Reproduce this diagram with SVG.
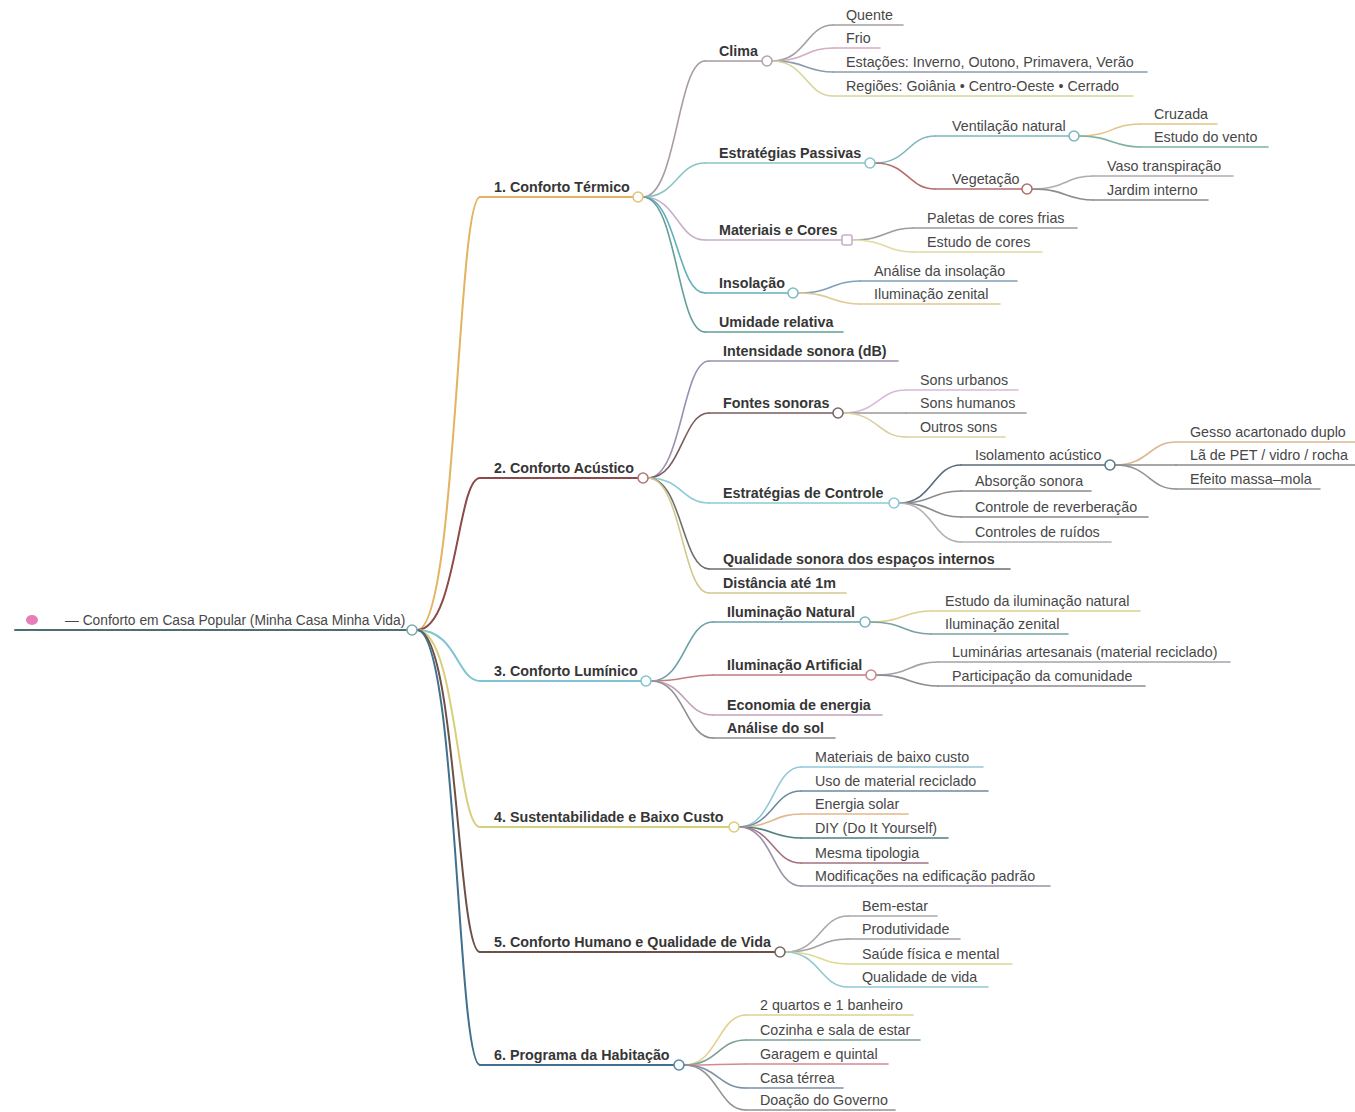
<svg xmlns="http://www.w3.org/2000/svg" width="1355" height="1112" viewBox="0 0 1355 1112">
<style>
.t{font-family:"Liberation Sans",Arial,sans-serif;font-size:14.3px;fill:#474747}
.b{font-weight:bold;fill:#363636}
.r{font-size:13.8px}
.ln{fill:none;stroke-width:1.6;stroke-linecap:round}
.l1{stroke-width:2}
.mk{fill:#fff;stroke-width:1.6}
</style>
<rect width="1355" height="1112" fill="#fff"/>
<g id="connectors">
<path class="ln l1" stroke="#e3b35f" d="M417,630C457,630 457,197 480,197"/>
<path class="ln l1" stroke="#8d4a4a" d="M417,630C457,630 457,478 480,478"/>
<path class="ln l1" stroke="#7ec4d2" d="M417,630C457,630 457,681 480,681"/>
<path class="ln l1" stroke="#d8cf7c" d="M417,630C457,630 457,827 480,827"/>
<path class="ln l1" stroke="#6d5046" d="M417,630C457,630 457,952 480,952"/>
<path class="ln l1" stroke="#41708e" d="M417,630C457,630 457,1065 480,1065"/>
<path class="ln" stroke="#a99aa3" d="M643,197C677,197 677,61 705,61"/>
<path class="ln" stroke="#89c5c8" d="M643,197C677,197 677,163 705,163"/>
<path class="ln" stroke="#c9aecb" d="M643,197C677,197 677,240 705,240"/>
<path class="ln" stroke="#62afbc" d="M643,197C677,197 677,293 705,293"/>
<path class="ln" stroke="#609e9b" d="M643,197C677,197 677,332 705,332"/>
<path class="ln" stroke="#a59fa0" d="M772,61C806,61 806,25 833,25"/>
<path class="ln" stroke="#d6abc3" d="M772,61C806,61 806,48 833,48"/>
<path class="ln" stroke="#8d9cab" d="M772,61C806,61 806,72 833,72"/>
<path class="ln" stroke="#d6d69d" d="M772,61C806,61 806,96 833,96"/>
<path class="ln" stroke="#7db7bf" d="M875,163C908,163 908,136 935,136"/>
<path class="ln" stroke="#b46e6e" d="M875,163C908,163 908,189 935,189"/>
<path class="ln" stroke="#dfc683" d="M1079,136C1112,136 1112,124 1140,124"/>
<path class="ln" stroke="#7eb2a2" d="M1079,136C1112,136 1112,147 1140,147"/>
<path class="ln" stroke="#b2aab2" d="M1032,189C1066,189 1066,176 1093,176"/>
<path class="ln" stroke="#8c8c8c" d="M1032,189C1066,189 1066,200 1093,200"/>
<path class="ln" stroke="#9c9c9c" d="M852,240C886,240 886,228 913,228"/>
<path class="ln" stroke="#e0dca4" d="M852,240C886,240 886,252 913,252"/>
<path class="ln" stroke="#7f9fb9" d="M798,293C832,293 832,281 860,281"/>
<path class="ln" stroke="#e1c992" d="M798,293C832,293 832,304 860,304"/>
<path class="ln" stroke="#9b90b1" d="M648,478C682,478 682,361 709,361"/>
<path class="ln" stroke="#7c5c5c" d="M648,478C682,478 682,413 709,413"/>
<path class="ln" stroke="#8ccad9" d="M648,478C682,478 682,503 709,503"/>
<path class="ln" stroke="#6f6f6f" d="M648,478C682,478 682,569 709,569"/>
<path class="ln" stroke="#d2c98f" d="M648,478C682,478 682,593 709,593"/>
<path class="ln" stroke="#d9b9d9" d="M843,413C878,413 878,390 906,390"/>
<path class="ln" stroke="#9b9b9b" d="M843,413C878,413 878,413 906,413"/>
<path class="ln" stroke="#d9d1a2" d="M843,413C878,413 878,437 906,437"/>
<path class="ln" stroke="#5b6b7b" d="M899,503C933,503 933,465 961,465"/>
<path class="ln" stroke="#8b8b8b" d="M899,503C933,503 933,491 961,491"/>
<path class="ln" stroke="#8b8b8b" d="M899,503C933,503 933,517 961,517"/>
<path class="ln" stroke="#b2b2b2" d="M899,503C933,503 933,542 961,542"/>
<path class="ln" stroke="#d9ba92" d="M1115,465C1149,465 1149,442 1176,442"/>
<path class="ln" stroke="#8b8b8b" d="M1115,465C1149,465 1149,465 1176,465"/>
<path class="ln" stroke="#929292" d="M1115,465C1149,465 1149,489 1176,489"/>
<path class="ln" stroke="#6aa0a9" d="M651,681C685,681 685,622 713,622"/>
<path class="ln" stroke="#c27c82" d="M651,681C685,681 685,675 713,675"/>
<path class="ln" stroke="#c2a2ba" d="M651,681C685,681 685,715 713,715"/>
<path class="ln" stroke="#8f8f8f" d="M651,681C685,681 685,738 713,738"/>
<path class="ln" stroke="#dfcf8f" d="M870,622C904,622 904,611 931,611"/>
<path class="ln" stroke="#7aa2a2" d="M870,622C904,622 904,634 931,634"/>
<path class="ln" stroke="#a2a2aa" d="M876,675C910,675 910,662 938,662"/>
<path class="ln" stroke="#8c8c92" d="M876,675C910,675 910,686 938,686"/>
<path class="ln" stroke="#92c9d8" d="M739,827C773,827 773,767 801,767"/>
<path class="ln" stroke="#6b8ba2" d="M739,827C773,827 773,791 801,791"/>
<path class="ln" stroke="#e1b98f" d="M739,827C773,827 773,814 801,814"/>
<path class="ln" stroke="#4f7f80" d="M739,827C773,827 773,838 801,838"/>
<path class="ln" stroke="#a27282" d="M739,827C773,827 773,863 801,863"/>
<path class="ln" stroke="#9b91a9" d="M739,827C773,827 773,886 801,886"/>
<path class="ln" stroke="#a9a9a9" d="M785,952C820,952 820,916 848,916"/>
<path class="ln" stroke="#a1a1a1" d="M785,952C820,952 820,939 848,939"/>
<path class="ln" stroke="#e0d991" d="M785,952C820,952 820,964 848,964"/>
<path class="ln" stroke="#92c9d1" d="M785,952C820,952 820,987 848,987"/>
<path class="ln" stroke="#e1d191" d="M684,1065C718,1065 718,1015 746,1015"/>
<path class="ln" stroke="#7aa192" d="M684,1065C718,1065 718,1040 746,1040"/>
<path class="ln" stroke="#d28a92" d="M684,1065C718,1065 718,1064 746,1064"/>
<path class="ln" stroke="#7b91a9" d="M684,1065C718,1065 718,1088 746,1088"/>
<path class="ln" stroke="#929292" d="M684,1065C718,1065 718,1110 746,1110"/>
</g>

<g id="root">
<path class="ln l1" stroke="#4f6e72" d="M15,630H407"/>
<ellipse cx="32" cy="620" rx="6" ry="5" fill="#e67fb8"/>
<text class="t r" x="65" y="625">— Conforto em Casa Popular (Minha Casa Minha Vida)</text>
<circle class="mk" cx="412" cy="630" r="5" stroke="#7fa9b0"/>
</g>

<g id="n1">
<path class="ln l1" stroke="#e3b35f" d="M480,197H633"/>
<text class="t b" x="494" y="192">1. Conforto Térmico</text>
<circle class="mk" cx="638" cy="197" r="5" stroke="#e3c07a"/>
</g>
<g id="n1-clima">
<path class="ln" stroke="#a99aa3" d="M705,61H762"/>
<text class="t b" x="719" y="56">Clima</text>
<circle class="mk" cx="767" cy="61" r="5" stroke="#b3a3b3"/>
</g>
<g id="n1-clima-quente"><path class="ln" stroke="#a59fa0" d="M833,25H903"/><text class="t" x="846" y="20">Quente</text></g>
<g id="n1-clima-frio"><path class="ln" stroke="#d6abc3" d="M833,48H880"/><text class="t" x="846" y="43">Frio</text></g>
<g id="n1-clima-estacoes"><path class="ln" stroke="#8d9cab" d="M833,72H1147"/><text class="t" x="846" y="67">Estações: Inverno, Outono, Primavera, Verão</text></g>
<g id="n1-clima-regioes"><path class="ln" stroke="#d6d69d" d="M833,96H1133"/><text class="t" x="846" y="91">Regiões: Goiânia • Centro-Oeste • Cerrado</text></g>

<g id="n1-estrategias">
<path class="ln" stroke="#89c5c8" d="M705,163H865"/>
<text class="t b" x="719" y="158">Estratégias Passivas</text>
<circle class="mk" cx="870" cy="163" r="5" stroke="#89c5c8"/>
</g>
<g id="n1-ventilacao">
<path class="ln" stroke="#7db7bf" d="M935,136H1069"/>
<text class="t" x="952" y="131">Ventilação natural</text>
<circle class="mk" cx="1074" cy="136" r="5" stroke="#7db7bf"/>
</g>
<g id="n1-ventilacao-cruzada"><path class="ln" stroke="#dfc683" d="M1140,124H1217"/><text class="t" x="1154" y="119">Cruzada</text></g>
<g id="n1-ventilacao-vento"><path class="ln" stroke="#7eb2a2" d="M1140,147H1268"/><text class="t" x="1154" y="142">Estudo do vento</text></g>
<g id="n1-vegetacao">
<path class="ln" stroke="#b46e6e" d="M935,189H1022"/>
<text class="t" x="952" y="184">Vegetação</text>
<circle class="mk" cx="1027" cy="189" r="5" stroke="#b46e6e"/>
</g>
<g id="n1-vegetacao-vaso"><path class="ln" stroke="#b2aab2" d="M1093,176H1233"/><text class="t" x="1107" y="171">Vaso transpiração</text></g>
<g id="n1-vegetacao-jardim"><path class="ln" stroke="#8c8c8c" d="M1093,200H1208"/><text class="t" x="1107" y="195">Jardim interno</text></g>

<g id="n1-materiais">
<path class="ln" stroke="#c9aecb" d="M705,240H842"/>
<text class="t b" x="719" y="235">Materiais e Cores</text>
<rect class="mk" x="842" y="235" width="10" height="10" rx="2" stroke="#c9aecb"/>
</g>
<g id="n1-materiais-paletas"><path class="ln" stroke="#9c9c9c" d="M913,228H1077"/><text class="t" x="927" y="223">Paletas de cores frias</text></g>
<g id="n1-materiais-estudo"><path class="ln" stroke="#e0dca4" d="M913,252H1042"/><text class="t" x="927" y="247">Estudo de cores</text></g>

<g id="n1-insolacao">
<path class="ln" stroke="#62afbc" d="M705,293H788"/>
<text class="t b" x="719" y="288">Insolação</text>
<circle class="mk" cx="793" cy="293" r="5" stroke="#7cbcc6"/>
</g>
<g id="n1-insolacao-analise"><path class="ln" stroke="#7f9fb9" d="M860,281H1017"/><text class="t" x="874" y="276">Análise da insolação</text></g>
<g id="n1-insolacao-zenital"><path class="ln" stroke="#e1c992" d="M860,304H1000"/><text class="t" x="874" y="299">Iluminação zenital</text></g>
<g id="n1-umidade"><path class="ln" stroke="#609e9b" d="M705,332H843"/><text class="t b" x="719" y="327">Umidade relativa</text></g>

<g id="n2">
<path class="ln l1" stroke="#8d4a4a" d="M480,478H638"/>
<text class="t b" x="494" y="473">2. Conforto Acústico</text>
<circle class="mk" cx="643" cy="478" r="5" stroke="#b07878"/>
</g>
<g id="n2-intensidade"><path class="ln" stroke="#9b90b1" d="M709,361H898"/><text class="t b" x="723" y="356">Intensidade sonora (dB)</text></g>
<g id="n2-fontes">
<path class="ln" stroke="#7c5c5c" d="M709,413H833"/>
<text class="t b" x="723" y="408">Fontes sonoras</text>
<circle class="mk" cx="838" cy="413" r="5" stroke="#7c6666"/>
</g>
<g id="n2-fontes-urbanos"><path class="ln" stroke="#d9b9d9" d="M906,390H1018"/><text class="t" x="920" y="385">Sons urbanos</text></g>
<g id="n2-fontes-humanos"><path class="ln" stroke="#9b9b9b" d="M906,413H1026"/><text class="t" x="920" y="408">Sons humanos</text></g>
<g id="n2-fontes-outros"><path class="ln" stroke="#d9d1a2" d="M906,437H1005"/><text class="t" x="920" y="432">Outros sons</text></g>
<g id="n2-estrategias">
<path class="ln" stroke="#8ccad9" d="M709,503H889"/>
<text class="t b" x="723" y="498">Estratégias de Controle</text>
<circle class="mk" cx="894" cy="503" r="5" stroke="#8ccad9"/>
</g>
<g id="n2-isolamento">
<path class="ln" stroke="#5b6b7b" d="M961,465H1105"/>
<text class="t" x="975" y="460">Isolamento acústico</text>
<circle class="mk" cx="1110" cy="465" r="5" stroke="#5b7b8b"/>
</g>
<g id="n2-isolamento-gesso"><path class="ln" stroke="#d9ba92" d="M1176,442H1355"/><text class="t" x="1190" y="437">Gesso acartonado duplo</text></g>
<g id="n2-isolamento-la"><path class="ln" stroke="#8b8b8b" d="M1176,465H1355"/><text class="t" x="1190" y="460">Lã de PET / vidro / rocha</text></g>
<g id="n2-isolamento-efeito"><path class="ln" stroke="#929292" d="M1176,489H1320"/><text class="t" x="1190" y="484">Efeito massa–mola</text></g>
<g id="n2-absorcao"><path class="ln" stroke="#8b8b8b" d="M961,491H1091"/><text class="t" x="975" y="486">Absorção sonora</text></g>
<g id="n2-reverberacao"><path class="ln" stroke="#8b8b8b" d="M961,517H1148"/><text class="t" x="975" y="512">Controle de reverberação</text></g>
<g id="n2-ruidos"><path class="ln" stroke="#b2b2b2" d="M961,542H1111"/><text class="t" x="975" y="537">Controles de ruídos</text></g>
<g id="n2-qualidade"><path class="ln" stroke="#6f6f6f" d="M709,569H1010"/><text class="t b" x="723" y="564">Qualidade sonora dos espaços internos</text></g>
<g id="n2-distancia"><path class="ln" stroke="#d2c98f" d="M709,593H846"/><text class="t b" x="723" y="588">Distância até 1m</text></g>

<g id="n3">
<path class="ln l1" stroke="#7ec4d2" d="M480,681H641"/>
<text class="t b" x="494" y="676">3. Conforto Lumínico</text>
<circle class="mk" cx="646" cy="681" r="5" stroke="#7ec4d2"/>
</g>
<g id="n3-natural">
<path class="ln" stroke="#6aa0a9" d="M713,622H860"/>
<text class="t b" x="727" y="617">Iluminação Natural</text>
<circle class="mk" cx="865" cy="622" r="5" stroke="#7ab4bd"/>
</g>
<g id="n3-natural-estudo"><path class="ln" stroke="#dfcf8f" d="M931,611H1140"/><text class="t" x="945" y="606">Estudo da iluminação natural</text></g>
<g id="n3-natural-zenital"><path class="ln" stroke="#7aa2a2" d="M931,634H1068"/><text class="t" x="945" y="629">Iluminação zenital</text></g>
<g id="n3-artificial">
<path class="ln" stroke="#c27c82" d="M713,675H866"/>
<text class="t b" x="727" y="670">Iluminação Artificial</text>
<circle class="mk" cx="871" cy="675" r="5" stroke="#c98a90"/>
</g>
<g id="n3-artificial-luminarias"><path class="ln" stroke="#a2a2aa" d="M938,662H1230"/><text class="t" x="952" y="657">Luminárias artesanais (material reciclado)</text></g>
<g id="n3-artificial-participacao"><path class="ln" stroke="#8c8c92" d="M938,686H1145"/><text class="t" x="952" y="681">Participação da comunidade</text></g>
<g id="n3-economia"><path class="ln" stroke="#c2a2ba" d="M713,715H882"/><text class="t b" x="727" y="710">Economia de energia</text></g>
<g id="n3-sol"><path class="ln" stroke="#8f8f8f" d="M713,738H835"/><text class="t b" x="727" y="733">Análise do sol</text></g>

<g id="n4">
<path class="ln l1" stroke="#d8cf7c" d="M480,827H729"/>
<text class="t b" x="494" y="822">4. Sustentabilidade e Baixo Custo</text>
<circle class="mk" cx="734" cy="827" r="5" stroke="#d8cf7c"/>
</g>
<g id="n4-materiais"><path class="ln" stroke="#92c9d8" d="M801,767H983"/><text class="t" x="815" y="762">Materiais de baixo custo</text></g>
<g id="n4-reciclado"><path class="ln" stroke="#6b8ba2" d="M801,791H988"/><text class="t" x="815" y="786">Uso de material reciclado</text></g>
<g id="n4-solar"><path class="ln" stroke="#e1b98f" d="M801,814H908"/><text class="t" x="815" y="809">Energia solar</text></g>
<g id="n4-diy"><path class="ln" stroke="#4f7f80" d="M801,838H948"/><text class="t" x="815" y="833">DIY (Do It Yourself)</text></g>
<g id="n4-tipologia"><path class="ln" stroke="#a27282" d="M801,863H928"/><text class="t" x="815" y="858">Mesma tipologia</text></g>
<g id="n4-modificacoes"><path class="ln" stroke="#9b91a9" d="M801,886H1050"/><text class="t" x="815" y="881">Modificações na edificação padrão</text></g>

<g id="n5">
<path class="ln l1" stroke="#6d5046" d="M480,952H775"/>
<text class="t b" x="494" y="947">5. Conforto Humano e Qualidade de Vida</text>
<circle class="mk" cx="780" cy="952" r="5" stroke="#7d6a62"/>
</g>
<g id="n5-bemestar"><path class="ln" stroke="#a9a9a9" d="M848,916H937"/><text class="t" x="862" y="911">Bem-estar</text></g>
<g id="n5-produtividade"><path class="ln" stroke="#a1a1a1" d="M848,939H960"/><text class="t" x="862" y="934">Produtividade</text></g>
<g id="n5-saude"><path class="ln" stroke="#e0d991" d="M848,964H1012"/><text class="t" x="862" y="959">Saúde física e mental</text></g>
<g id="n5-qualidade"><path class="ln" stroke="#92c9d1" d="M848,987H988"/><text class="t" x="862" y="982">Qualidade de vida</text></g>

<g id="n6">
<path class="ln l1" stroke="#41708e" d="M480,1065H674"/>
<text class="t b" x="494" y="1060">6. Programa da Habitação</text>
<circle class="mk" cx="679" cy="1065" r="5" stroke="#5a88a6"/>
</g>
<g id="n6-quartos"><path class="ln" stroke="#e1d191" d="M746,1015H913"/><text class="t" x="760" y="1010">2 quartos e 1 banheiro</text></g>
<g id="n6-cozinha"><path class="ln" stroke="#7aa192" d="M746,1040H920"/><text class="t" x="760" y="1035">Cozinha e sala de estar</text></g>
<g id="n6-garagem"><path class="ln" stroke="#d28a92" d="M746,1064H888"/><text class="t" x="760" y="1059">Garagem e quintal</text></g>
<g id="n6-terrea"><path class="ln" stroke="#7b91a9" d="M746,1088H843"/><text class="t" x="760" y="1083">Casa térrea</text></g>
<g id="n6-doacao"><path class="ln" stroke="#929292" d="M746,1110H895"/><text class="t" x="760" y="1105">Doação do Governo</text></g>
</svg>
